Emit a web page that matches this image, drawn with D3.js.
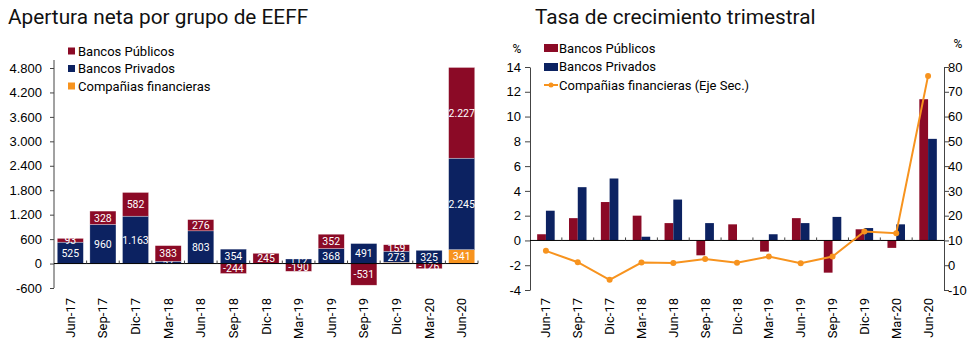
<!DOCTYPE html>
<html>
<head>
<meta charset="utf-8">
<script src="https://cdn.jsdelivr.net/npm/d3@7"></script>
<style>
  body { margin: 0; background: #fff; }
  svg { font-family: Roboto, "Noto Sans", sans-serif; }
  .tick text { fill: #000; }
</style>
</head>
<body>
<div id="chart"></div>
<script>
// categorias comunes
var categories = ["Jun-17","Sep-17","Dic-17","Mar-18","Jun-18","Sep-18","Dic-18","Mar-19","Jun-19","Sep-19","Dic-19","Mar-20","Jun-20"];

// panel izquierdo: apertura neta
var netPublicos  = [93, 328, 582, 383, 276, -244, 245, -190, 352, -531, 159, -126, 2227];
var netPrivados  = [525, 960, 1163, 57, 803, 354, 6, 112, 368, 491, 273, 325, 2245];
var netCompanias = [0, 0, 0, 0, 0, 0, 0, 0, 0, 0, 30, 0, 341];
var netTicks = [-600, 0, 600, 1200, 1800, 2400, 3000, 3600, 4200, 4800];

// panel derecho: tasa de crecimiento (%)
var tasaPublicos  = [0.5, 1.8, 3.1, 2.0, 1.4, -1.2, 1.3, -0.9, 1.8, -2.6, 0.9, -0.6, 11.4];
var tasaPrivados  = [2.4, 4.3, 5.0, 0.3, 3.3, 1.4, 0, 0.5, 1.4, 1.9, 1.0, 1.3, 8.2];
var tasaCompanias = [5.8, 1.2, -5.9, 1.1, 0.9, 2.5, 1.0, 3.5, 0.8, 3.5, 13.6, 12.9, 76.4];
var tasaTicksL = [-4, -2, 0, 2, 4, 6, 8, 10, 12, 14];
var tasaTicksR = [-10, 0, 10, 20, 30, 40, 50, 60, 70, 80];

var RED = "#8b0a26", NAVY = "#0c2261", ORANGE = "#f7931e", AXIS = "#444";

var svg = d3.select("#chart").append("svg")
  .attr("width", 980).attr("height", 342);

// formato es: punto de miles, guion como signo menos
var locale = d3.formatLocale({decimal: ",", thousands: ".", grouping: [3], currency: ["$", ""], minus: "-"});
var fmt = locale.format(",");

// ---------- panel izquierdo ----------
svg.append("text").attr("x", 8).attr("y", 24)
  .attr("font-size", 20.8).attr("fill", "#111")
  .text("Apertura neta por grupo de EEFF");

var rows = categories.map(function(c, i) {
  return {cat: c, cias: netCompanias[i], priv: netPrivados[i], pub: netPublicos[i]};
});
var keys = ["cias", "priv", "pub"],
    colors = {cias: ORANGE, priv: NAVY, pub: RED};

var x = d3.scaleBand().domain(categories).range([54, 478])
  .paddingInner(0.2).paddingOuter(0.1);
var y = d3.scaleLinear().domain([-600, 4800]).range([288, 68]);

var stack = d3.stack().keys(keys).offset(d3.stackOffsetDiverging)(rows);

var layer = svg.append("g").selectAll("g")
  .data(stack).enter().append("g")
  .attr("fill", function(d) { return colors[d.key]; });

layer.selectAll("rect")
  .data(function(d) { return d; })
  .enter().append("rect")
  .attr("x", function(d) { return x(d.data.cat); })
  .attr("width", x.bandwidth())
  .attr("y", function(d) { return y(Math.max(d[0], d[1])); })
  .attr("height", function(d) { return Math.abs(y(d[0]) - y(d[1])); })
  .attr("stroke", "#fff").attr("stroke-width", 0.5).attr("stroke-opacity", 0.6);

layer.selectAll("text")
  .data(function(d) {
    return d.map(function(p) { p.key = d.key; return p; });
  })
  .enter().append("text")
  .filter(function(d) {
    var v = d.data[d.key];
    return d.key == "cias" ? v >= 100 : v != 0;
  })
  .attr("x", function(d) { return x(d.data.cat) + x.bandwidth() / 2; })
  .attr("y", function(d) { return (y(d[0]) + y(d[1])) / 2; })
  .attr("dy", ".36em")
  .attr("text-anchor", "middle")
  .attr("font-size", 10.5)
  .attr("fill", "#fff")
  .text(function(d) { return fmt(d.data[d.key]); });

// eje y
var yAxis = svg.append("g").attr("transform", "translate(54,0)")
  .call(d3.axisLeft(y).tickValues(netTicks).tickFormat(fmt).tickSize(4).tickSizeOuter(0));
yAxis.select(".domain").remove();
yAxis.append("line").attr("x1", 0).attr("x2", 0).attr("y1", 60).attr("y2", 288)
  .attr("stroke", AXIS);
yAxis.selectAll(".tick line").attr("stroke", AXIS);
yAxis.selectAll("text").attr("font-size", 13).attr("x", -12);

// eje x en cero
svg.append("line").attr("x1", 54).attr("x2", 478).attr("y1", y(0)).attr("y2", y(0))
  .attr("stroke", "#000");
svg.append("g").selectAll("line")
  .data(categories).enter().append("line")
  .attr("x1", function(d) { return x(d) + x.bandwidth() + x.step() * 0.1; })
  .attr("x2", function(d) { return x(d) + x.bandwidth() + x.step() * 0.1; })
  .attr("y1", y(0)).attr("y2", y(0) - 3)
  .attr("stroke", AXIS);
svg.append("g").selectAll("text")
  .data(categories).enter().append("text")
  .attr("transform", function(d) {
    return "translate(" + (x(d) + x.bandwidth() / 2 + 4.5) + ",298) rotate(-90)";
  })
  .attr("text-anchor", "end").attr("font-size", 13)
  .text(function(d) { return d; });

// leyenda izquierda
var legL = svg.append("g").selectAll("g")
  .data([["Bancos Públicos", RED], ["Bancos Privados", NAVY], ["Compañias financieras", ORANGE]])
  .enter().append("g")
  .attr("transform", function(d, i) { return "translate(68," + (51 + i * 17.5) + ")"; });
legL.append("rect").attr("x", 0).attr("y", -3.5).attr("width", 7).attr("height", 7)
  .attr("fill", function(d) { return d[1]; });
legL.append("text").attr("x", 10).attr("dy", ".35em").attr("font-size", 13)
  .text(function(d) { return d[0]; });

// ---------- panel derecho ----------
svg.append("text").attr("x", 535).attr("y", 24)
  .attr("font-size", 20.8).attr("fill", "#111")
  .text("Tasa de crecimiento trimestral");

var x0 = d3.scaleBand().domain(categories).range([530, 944])
  .paddingInner(0.45).paddingOuter(0.225);
var x1 = d3.scaleBand().domain(["pub", "priv"]).range([0, x0.bandwidth()]);
var yL = d3.scaleLinear().domain([-4, 14]).range([290, 67]);
var yR = d3.scaleLinear().domain([-10, 80]).range([290, 67]);

var groups = svg.append("g").selectAll("g")
  .data(categories).enter().append("g")
  .attr("transform", function(d) { return "translate(" + x0(d) + ",0)"; });
groups.selectAll("rect")
  .data(function(d, i) {
    return [{k: "pub", v: tasaPublicos[i], c: RED}, {k: "priv", v: tasaPrivados[i], c: NAVY}];
  })
  .enter().append("rect")
  .attr("x", function(d) { return x1(d.k); })
  .attr("width", x1.bandwidth())
  .attr("y", function(d) { return yL(Math.max(0, d.v)); })
  .attr("height", function(d) { return Math.abs(yL(d.v) - yL(0)); })
  .attr("fill", function(d) { return d.c; });

var yAxL = svg.append("g").attr("transform", "translate(530,0)")
  .call(d3.axisLeft(yL).tickValues(tasaTicksL).tickFormat(fmt).tickSize(5).tickSizeOuter(0));
yAxL.select(".domain").attr("stroke", AXIS);
yAxL.selectAll(".tick line").attr("stroke", AXIS);
yAxL.selectAll("text").attr("font-size", 13).attr("x", -9);

var yAxR = svg.append("g").attr("transform", "translate(944,0)")
  .call(d3.axisRight(yR).tickValues(tasaTicksR).tickFormat(fmt).tickSize(5).tickSizeOuter(0));
yAxR.select(".domain").attr("stroke", AXIS);
yAxR.selectAll(".tick line").attr("stroke", AXIS);
yAxR.selectAll("text").attr("font-size", 13).attr("x", 4);

svg.append("text").attr("x", 517).attr("y", 53).attr("text-anchor", "middle")
  .attr("font-size", 12).text("%");
svg.append("text").attr("x", 958).attr("y", 48).attr("text-anchor", "middle")
  .attr("font-size", 12).text("%");

svg.append("line").attr("x1", 530).attr("x2", 944).attr("y1", yL(0)).attr("y2", yL(0))
  .attr("stroke", "#000");
svg.append("g").selectAll("line")
  .data(categories.slice(1)).enter().append("line")
  .attr("x1", function(d) { return x0(d) - x0.step() * 0.225; })
  .attr("x2", function(d) { return x0(d) - x0.step() * 0.225; })
  .attr("y1", yL(0)).attr("y2", yL(0) - 3)
  .attr("stroke", AXIS);
svg.append("g").selectAll("text")
  .data(categories).enter().append("text")
  .attr("transform", function(d) {
    return "translate(" + (x0(d) + x0.bandwidth() / 2 + 4.5) + ",298) rotate(-90)";
  })
  .attr("text-anchor", "end").attr("font-size", 13)
  .text(function(d) { return d; });

// linea companias (eje sec.)
var line = d3.line()
  .x(function(d, i) { return x0(categories[i]) + x0.bandwidth() / 2; })
  .y(function(d) { return yR(d); });
svg.append("path").datum(tasaCompanias)
  .attr("d", line).attr("fill", "none")
  .attr("stroke", ORANGE).attr("stroke-width", 2);
svg.append("g").selectAll("circle")
  .data(tasaCompanias).enter().append("circle")
  .attr("cx", function(d, i) { return x0(categories[i]) + x0.bandwidth() / 2; })
  .attr("cy", function(d) { return yR(d); })
  .attr("r", 3).attr("fill", ORANGE);

// leyenda derecha
var legR = svg.append("g").attr("transform", "translate(544,0)");
legR.append("rect").attr("x", 0).attr("y", 44).attr("width", 14).attr("height", 8).attr("fill", RED);
legR.append("rect").attr("x", 0).attr("y", 63).attr("width", 14).attr("height", 8).attr("fill", NAVY);
legR.append("line").attr("x1", 0).attr("x2", 14).attr("y1", 85).attr("y2", 85)
  .attr("stroke", ORANGE).attr("stroke-width", 2);
legR.append("circle").attr("cx", 7).attr("cy", 85).attr("r", 2.5).attr("fill", ORANGE);
legR.selectAll("text.leg")
  .data(["Bancos Públicos", "Bancos Privados", "Compañias financieras (Eje Sec.)"])
  .enter().append("text").attr("class", "leg")
  .attr("x", 15).attr("y", function(d, i) { return 48 + i * 18.5; })
  .attr("dy", ".35em").attr("font-size", 13)
  .text(function(d) { return d; });
</script>
</body>
</html>
